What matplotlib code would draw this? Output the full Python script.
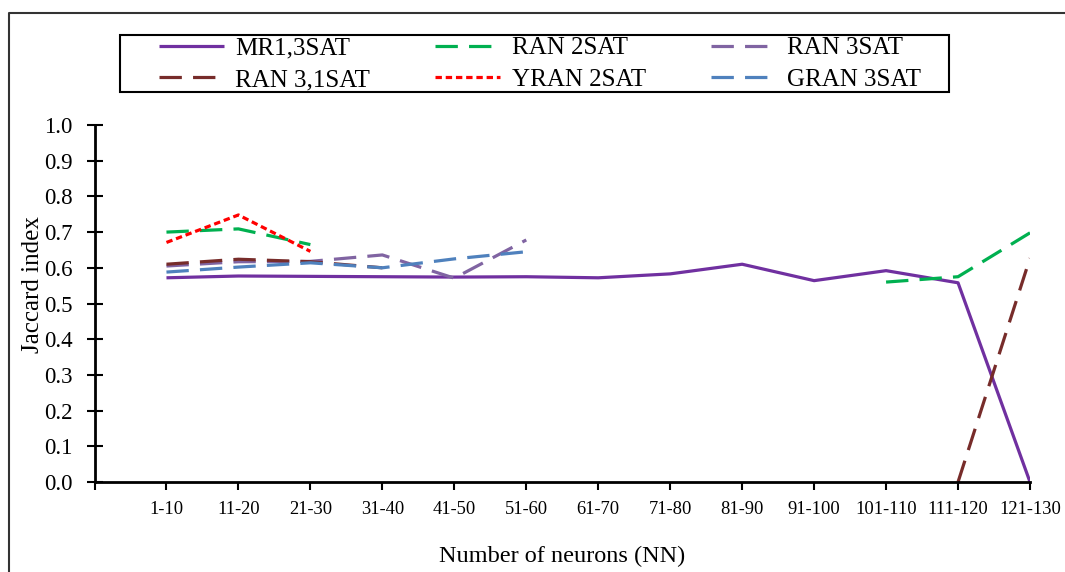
import matplotlib
matplotlib.use("Agg")
import matplotlib.pyplot as plt
from matplotlib.lines import Line2D
from matplotlib.patches import Rectangle
import numpy as np

categories = ["1-10", "11-20", "21-30", "31-40", "41-50", "51-60", "61-70",
              "71-80", "81-90", "91-100", "101-110", "111-120", "121-130"]
N = None
mr1_3sat = [0.572, 0.577, 0.576, 0.575, 0.574, 0.575, 0.572, 0.583, 0.610, 0.564, 0.592, 0.558, 0.0]
ran_2sat = [0.700, 0.709, 0.665, N, N, N, N, N, N, N, 0.560, 0.575, 0.698]
ran_3sat = [0.605, 0.617, 0.618, 0.636, 0.571, 0.678, N, N, N, N, N, N, N]
ran_31sat = [0.610, 0.624, 0.617, 0.600, N, N, N, N, N, N, N, 0.0, 0.627]
yran_2sat = [0.671, 0.748, 0.646, N, N, N, N, N, N, N, N, N, N]
gran_3sat = [0.588, 0.602, 0.614, 0.600, 0.625, 0.645, N, N, N, N, N, N, N]

names = ["MR1,3SAT", "RAN 2SAT", "RAN 3SAT", "RAN 3,1SAT", "YRAN 2SAT", "GRAN 3SAT"]
series = [mr1_3sat, ran_2sat, ran_3sat, ran_31sat, yran_2sat, gran_3sat]
colors = ["#7030A0", "#00B050", "#8064A2", "#772C2A", "#FF0000", "#4F81BD"]
dashes = [None, (7, 3.5), (7, 3.5), (7, 3.5), (2, 1.2), (7, 3.5)]

plt.rcParams['font.family'] = ['Liberation Serif', 'DejaVu Serif']

fig = plt.figure(figsize=(10.65, 5.72), dpi=100)
W, H = 1065, 572
ax = fig.add_axes([94.5 / W, 1 - 482 / H, (1030 - 94.5) / W, (482 - 125) / H])

x = np.arange(len(categories))
handles = []
for name, vals, c, d in zip(names, series, colors, dashes):
    y = np.array([np.nan if v is None else v for v in vals], dtype=float)
    ln, = ax.plot(x, y, color=c, lw=2.3, label=name, solid_capstyle='butt', dash_capstyle='butt')
    if d is not None:
        ln.set_dashes(d)
    handles.append(ln)

ax.set_xlim(-1, 12)
ax.set_ylim(0, 1.0)
ax.set_yticks(np.arange(0, 1.01, 0.1))
ax.set_yticklabels([f"{v:.1f}" for v in np.arange(0, 1.01, 0.1)], fontsize=16.5)
ax.set_xticks(np.arange(-1, 13))
ax.set_xticklabels([""] + categories, fontsize=13.3)
ax.tick_params(axis='y', direction='inout', length=12, width=1.5, pad=10)
ax.tick_params(axis='x', direction='out', length=6, width=1.5, pad=8)
for s in ['top', 'right']:
    ax.spines[s].set_visible(False)
for s in ['left', 'bottom']:
    ax.spines[s].set_linewidth(2)
ax.set_ylabel("Jaccard index", fontsize=18)
ax.yaxis.set_label_coords((44 - 94.5) / 935.5, (482 - 285) / 357)
ax.set_xlabel("Number of neurons (NN)", fontsize=17.5, labelpad=20)

order = [0, 3, 1, 4, 2, 5]
leg = fig.legend(handles=[handles[i] for i in order], labels=[names[i] for i in order],
                 ncol=3, loc='upper left',
                 bbox_to_anchor=(159 / W, 1 - 37 / H), fontsize=18,
                 frameon=False, borderaxespad=0, borderpad=0,
                 handlelength=2.6, handletextpad=0.45, columnspacing=2.61,
                 labelspacing=0.36)

fig.add_artist(Rectangle((120 / W, 1 - 92 / H), (949 - 120) / W, (92 - 35) / H,
                         transform=fig.transFigure, fill=False, edgecolor='black', lw=1.5))

# outer chart-area border
fig.add_artist(Line2D([9 / W, 9 / W, 1.0], [0, 1 - 13 / H, 1 - 13 / H],
                      transform=fig.transFigure, color='#333333', lw=1.5))

fig.savefig("out.png", dpi=100)
